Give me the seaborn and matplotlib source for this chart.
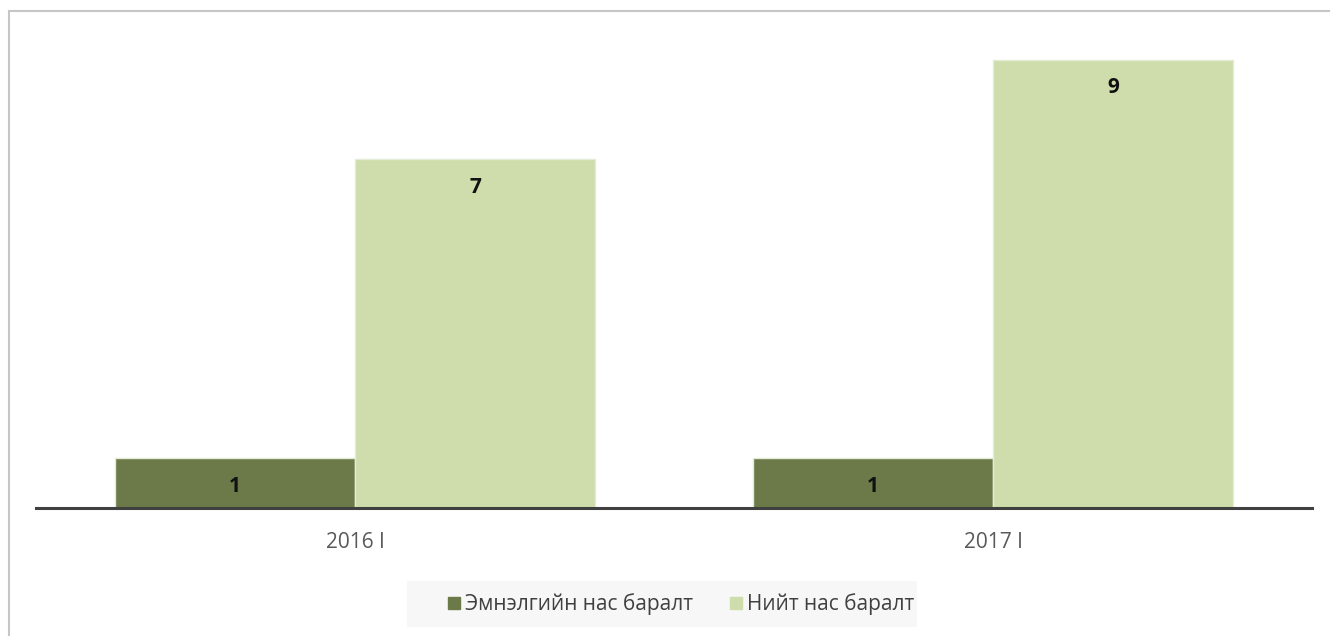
import matplotlib
matplotlib.use("Agg")
import matplotlib.pyplot as plt
import seaborn as sns
import pandas as pd
from matplotlib.lines import Line2D
from matplotlib.patches import Rectangle

categories = ["2016 I", "2017 I"]
series_names = ["Эмнэлгийн нас баралт", "Нийт нас баралт"]
hospital_deaths = [1, 1]
total_deaths = [7, 9]

colors = ["#6B7A48", "#CEDDAB"]

df = pd.DataFrame({
    "period": categories * 2,
    "series": [series_names[0]] * 2 + [series_names[1]] * 2,
    "value": hospital_deaths + total_deaths,
})

sns.set_theme(style="white")
plt.rcParams["font.family"] = ["Open Sans", "DejaVu Sans"]

W, H = 1330, 636
fig = plt.figure(figsize=(W / 100, H / 100), dpi=100)
ax = fig.add_axes([36 / W, 1 - 508 / H, (1312 - 36) / W, 498 / H])

sns.barplot(data=df, x="period", y="value", hue="series", hue_order=series_names,
            palette=colors, width=0.753, edgecolor="#E4EBD6", linewidth=1.0,
            saturation=1, ax=ax, legend=False)

ax.set_xlim(-0.5, 1.5)
ax.set_ylim(0, 10)
ax.set_xlabel("")
ax.set_ylabel("")
ax.set_yticks([])
for s in ["top", "right", "left"]:
    ax.spines[s].set_visible(False)
ax.spines["bottom"].set_color("#404040")
ax.spines["bottom"].set_linewidth(2.2)
ax.tick_params(axis="x", length=0, pad=17, labelsize=15, labelcolor="#595959")

for cont in ax.containers:
    for bar in cont:
        h = bar.get_height()
        ax.annotate(f"{h:g}", (bar.get_x() + bar.get_width() / 2, h),
                    xytext=(0, -28), textcoords="offset pixels",
                    ha="center", va="center", fontsize=15, fontweight="bold", color="#111111")

# legend background box
fig.add_artist(Rectangle((407 / W, 1 - 627 / H), (917 - 407) / W, (627 - 581) / H,
                         transform=fig.transFigure, facecolor="#F7F7F7", edgecolor="none", zorder=0))

handles = [Line2D([0], [0], marker="s", linestyle="", markersize=9,
                  markerfacecolor=c, markeredgecolor=c) for c in colors]
leg = fig.legend(handles, series_names, loc="center", bbox_to_anchor=(679 / W, 1 - 604 / H),
                 ncol=2, frameon=False, fontsize=15, handletextpad=0.0, columnspacing=1.6,
                 borderpad=0.2, handlelength=1.0)
for t in leg.get_texts():
    t.set_color("#404040")

fig.add_artist(Line2D([8.5 / W, 8.5 / W], [0, 1 - 10.5 / H], transform=fig.transFigure,
                      color="#C6C6C6", linewidth=1.5))
fig.add_artist(Line2D([8.5 / W, 1], [1 - 10.5 / H, 1 - 10.5 / H], transform=fig.transFigure,
                      color="#C6C6C6", linewidth=1.5))

fig.savefig("out.png", dpi=100)
